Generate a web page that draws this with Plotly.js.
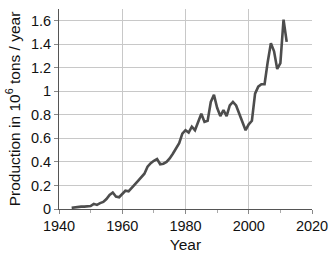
<!DOCTYPE html>
<html>
<head>
<meta charset="utf-8">
<script src="https://cdn.plot.ly/plotly-3.0.1.min.js"></script>
<style>html,body{margin:0;padding:0;background:#fff;}#chart{width:330px;height:256px;}</style>
</head>
<body>
<div id="chart"></div>
<script>
const years = [1944,1945,1946,1947,1948,1949,1950,1951,1952,1953,1954,1955,1956,1957,1958,1959,
  1960,1961,1962,1963,1964,1965,1966,1967,1968,1969,1970,1971,1972,1973,1974,1975,1976,1977,1978,1979,
  1980,1981,1982,1983,1984,1985,1986,1987,1988,1989,1990,1991,1992,1993,1994,1995,1996,1997,1998,1999,
  2000,2001,2002,2003,2004,2005,2006,2007,2008,2009,2010,2011,2012];
const production = [0.01,0.015,0.018,0.02,0.02,0.02,0.025,0.044,0.035,0.05,0.06,0.085,0.12,0.14,0.105,0.10,
  0.125,0.155,0.15,0.185,0.21,0.24,0.27,0.30,0.36,0.39,0.41,0.425,0.38,0.385,0.40,0.43,0.47,0.51,0.56,0.64,
  0.67,0.65,0.70,0.67,0.74,0.81,0.74,0.75,0.91,0.97,0.86,0.79,0.84,0.79,0.88,0.91,0.88,0.81,0.73,0.67,
  0.72,0.75,0.98,1.04,1.06,1.06,1.25,1.41,1.34,1.19,1.24,1.61,1.42];
const xTicks = [1940,1960,1980,2000,2020];
const yTicks = [0,0.2,0.4,0.6,0.8,1,1.2,1.4,1.6];

const trace = {
  x: years, y: production, type: 'scatter', mode: 'lines',
  line: {color: '#4d4d4d', width: 2.6, shape: 'linear'},
  hoverinfo: 'skip'
};
const tickFont = {family: 'Liberation Sans, Arial, sans-serif', size: 14.5, color: '#111'};
const titleFont = {family: 'Liberation Sans, Arial, sans-serif', size: 15.5, color: '#111'};
const layout = {
  width: 330, height: 256,
  margin: {l: 59, r: 18, t: 9, b: 47, pad: 0},
  paper_bgcolor: '#fff', plot_bgcolor: '#fff',
  font: tickFont,
  showlegend: false,
  xaxis: {
    range: [1940, 2020], tickvals: xTicks, ticktext: xTicks.map(String),
    showgrid: true, gridcolor: '#c8c8c8', gridwidth: 1,
    showline: true, linecolor: '#555', linewidth: 1,
    ticks: 'outside', ticklen: 4, tickcolor: '#888', tickwidth: 1,
    minor: {dtick: 10, tick0: 1940, ticks: 'outside', ticklen: 3, tickcolor: '#aaa', showgrid: false},
    zeroline: false,
    tickfont: tickFont,
    title: {text: 'Year', font: titleFont, standoff: 5}
  },
  yaxis: {
    range: [0, 1.7], tickvals: yTicks, ticktext: yTicks.map(String),
    showgrid: true, gridcolor: '#c8c8c8', gridwidth: 1,
    showline: true, linecolor: '#555', linewidth: 1,
    ticks: 'outside', ticklen: 4, tickcolor: '#888', tickwidth: 1,
    zeroline: false,
    tickfont: tickFont,
    title: {text: 'Production in 10<sup>6</sup> tons / year', font: titleFont, standoff: 6}
  }
};
Plotly.newPlot('chart', [trace], layout, {staticPlot: true, displayModeBar: false});
</script>
</body>
</html>
